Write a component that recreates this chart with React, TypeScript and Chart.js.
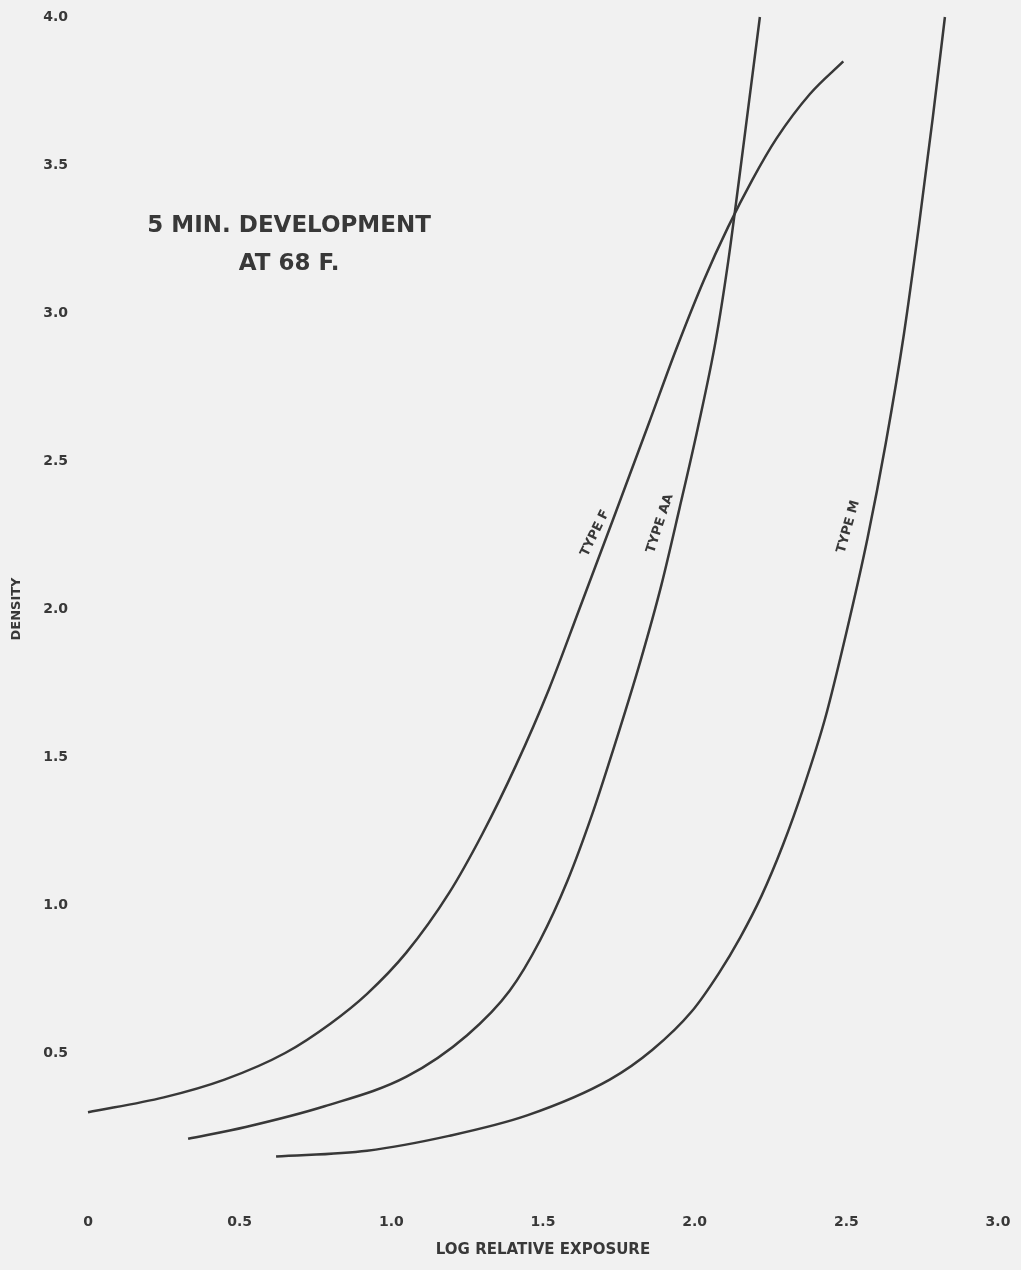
import React, { useEffect, useRef } from 'react';
import { Chart, registerables } from 'chart.js';

Chart.register(...registerables);

// ---- Data (log relative exposure vs. density) ----
const TYPE_F_LOGE = [0, 0.25, 0.45, 0.65, 0.80, 0.92, 1.05, 1.19, 1.30, 1.41, 1.52, 1.62, 1.73, 1.85, 1.94, 2.03, 2.11, 2.19, 2.27, 2.38, 2.49];
const TYPE_F_DENSITY = [0.30, 0.35, 0.41, 0.50, 0.60, 0.70, 0.84, 1.04, 1.24, 1.47, 1.73, 2.00, 2.30, 2.63, 2.88, 3.11, 3.29, 3.45, 3.59, 3.74, 3.85];

const TYPE_AA_LOGE = [0.33, 0.52, 0.78, 1.05, 1.25, 1.39, 1.49, 1.58, 1.66, 1.73, 1.82, 1.89, 1.95, 2.01, 2.07, 2.11, 2.145, 2.18, 2.215];
const TYPE_AA_DENSITY = [0.21, 0.25, 0.32, 0.42, 0.56, 0.71, 0.88, 1.08, 1.30, 1.52, 1.82, 2.08, 2.34, 2.61, 2.91, 3.17, 3.44, 3.72, 4.0];

const TYPE_M_LOGE = [0.62, 0.92, 1.19, 1.45, 1.72, 1.86, 1.99, 2.08, 2.15, 2.22, 2.29, 2.36, 2.43, 2.50, 2.57, 2.63, 2.69, 2.74, 2.785, 2.825];
const TYPE_M_DENSITY = [0.15, 0.17, 0.22, 0.29, 0.41, 0.51, 0.64, 0.77, 0.89, 1.03, 1.20, 1.40, 1.63, 1.92, 2.24, 2.56, 2.93, 3.30, 3.66, 4.0];

const X_TICK_LABELS = ['0', '0.5', '1.0', '1.5', '2.0', '2.5', '3.0'];
const Y_TICK_LABELS = ['', '0.5', '1.0', '1.5', '2.0', '2.5', '3.0', '3.5', '4.0'];

const X_TITLE = 'LOG RELATIVE EXPOSURE';
const Y_TITLE = 'DENSITY';

const TITLE_LINES = ['5 MIN. DEVELOPMENT', 'AT 68 F.'];
const CURVE_NAMES = ['TYPE F', 'TYPE AA', 'TYPE M'];

// ---- Styling / placement ----
const FONT = '"DejaVu Sans", "Noto Sans", sans-serif';
const INK = '#383838';
const PAPER = '#f1f1f1';

// annotation anchors in data coordinates (logE, density), rotation in degrees
const TITLE_POS = [
  { x: 0.663, y: 3.294, rot: 0, size: 23 },
  { x: 0.663, y: 3.166, rot: 0, size: 23 },
];
const CURVE_LABEL_POS = [
  { x: 1.672, y: 2.256, rot: -64, size: 13 },
  { x: 1.886, y: 2.289, rot: -72, size: 13 },
  { x: 2.507, y: 2.278, rot: -74, size: 13 },
];

const toPoints = (xs: number[], ys: number[]) => xs.map((x, i) => ({ x, y: ys[i] }));

const annotationPlugin = {
  id: 'paperAnnotations',
  afterDatasetsDraw(chart: any) {
    const { ctx, scales } = chart;
    const xs = scales.x;
    const ys = scales.y;
    const items = [
      ...TITLE_LINES.map((t, i) => ({ text: t, ...TITLE_POS[i] })),
      ...CURVE_NAMES.map((t, i) => ({ text: t, ...CURVE_LABEL_POS[i] })),
    ];
    for (const a of items) {
      ctx.save();
      ctx.translate(xs.getPixelForValue(a.x), ys.getPixelForValue(a.y));
      ctx.rotate((a.rot * Math.PI) / 180);
      ctx.font = `bold ${a.size}px ${FONT}`;
      ctx.fillStyle = INK;
      ctx.textAlign = 'center';
      ctx.textBaseline = 'middle';
      ctx.fillText(a.text, 0, 0);
      ctx.restore();
    }
  },
};

export default function App() {
  const canvasRef = useRef<HTMLCanvasElement>(null);

  useEffect(() => {
    if (!canvasRef.current) return;
    const lineStyle = {
      borderColor: INK,
      borderWidth: 2.5,
      pointRadius: 0,
      showLine: true,
      fill: false,
      cubicInterpolationMode: 'monotone' as const,
      clip: false as const,
    };
    const chart = new Chart(canvasRef.current, {
      type: 'scatter',
      data: {
        datasets: [
          { label: CURVE_NAMES[0], data: toPoints(TYPE_F_LOGE, TYPE_F_DENSITY), ...lineStyle },
          { label: CURVE_NAMES[1], data: toPoints(TYPE_AA_LOGE, TYPE_AA_DENSITY), ...lineStyle },
          { label: CURVE_NAMES[2], data: toPoints(TYPE_M_LOGE, TYPE_M_DENSITY), ...lineStyle },
        ],
      },
      options: {
        animation: false,
        responsive: true,
        maintainAspectRatio: false,
        layout: { padding: { top: 17, right: 23, bottom: 0, left: 0 } },
        plugins: { legend: { display: false }, tooltip: { enabled: false } },
        scales: {
          x: {
            type: 'linear',
            min: 0,
            max: 3,
            grid: { display: false, drawTicks: false },
            border: { display: false },
            afterFit: (s: any) => {
              s.height = 69;
              s.paddingLeft = 0;
              s.paddingRight = 0;
            },
            ticks: {
              stepSize: 0.5,
              padding: 13,
              autoSkip: false,
              maxRotation: 0,
              color: INK,
              font: { family: FONT, size: 14, weight: 'bold' },
              callback: (_v: any, i: number) => X_TICK_LABELS[i] ?? '',
            },
            title: {
              display: true,
              text: X_TITLE,
              color: INK,
              font: { family: FONT, size: 15, weight: 'bold' },
              padding: { top: 0, bottom: 11 },
            },
          },
          y: {
            type: 'linear',
            min: 0,
            max: 4,
            grid: { display: false, drawTicks: false },
            border: { display: false },
            afterFit: (s: any) => {
              s.width = 88;
              s.paddingTop = 0;
              s.paddingBottom = 0;
            },
            ticks: {
              stepSize: 0.5,
              padding: 20,
              autoSkip: false,
              color: INK,
              font: { family: FONT, size: 14, weight: 'bold' },
              callback: (_v: any, i: number) => Y_TICK_LABELS[i] ?? '',
            },
            title: {
              display: true,
              text: Y_TITLE,
              color: INK,
              font: { family: FONT, size: 13, weight: 'bold' },
              padding: { top: 9, bottom: 0 },
            },
          },
        },
      },
      plugins: [annotationPlugin],
    });
    return () => chart.destroy();
  }, []);

  return (
    <div
      style={{
        position: 'absolute',
        left: 0,
        top: 0,
        width: 1021,
        height: 1270,
        background: PAPER,
      }}
    >
      <canvas ref={canvasRef} />
    </div>
  );
}
